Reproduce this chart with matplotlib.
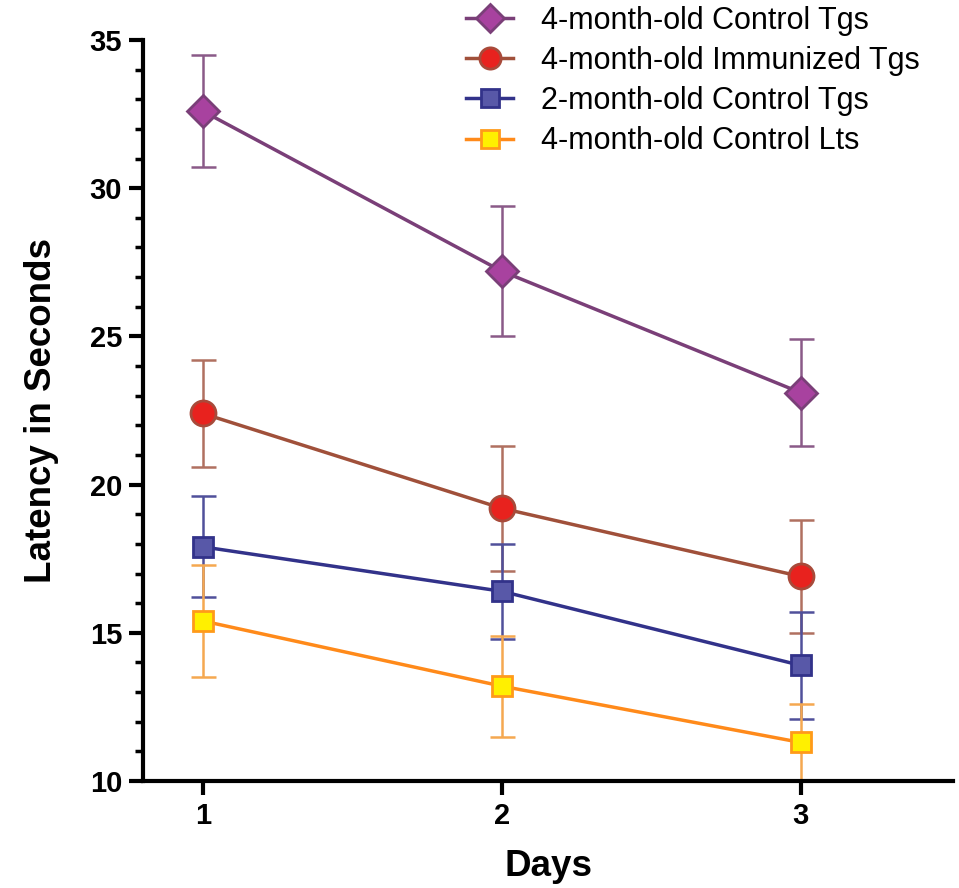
import matplotlib.pyplot as plt
from matplotlib import font_manager
from matplotlib.ticker import MultipleLocator

plt.rcParams['font.family'] = ['Liberation Sans', 'DejaVu Sans']

days = [1, 2, 3]
labels = ["4-month-old Control Tgs", "4-month-old Immunized Tgs",
          "2-month-old Control Tgs", "4-month-old Control Lts"]
ctrl_tg4 = [32.6, 27.2, 23.1]
ctrl_tg4_err = [1.9, 2.2, 1.8]
immun_tg4 = [22.4, 19.2, 16.9]
immun_tg4_err = [1.8, 2.1, 1.9]
ctrl_tg2 = [17.9, 16.4, 13.9]
ctrl_tg2_err = [1.7, 1.6, 1.8]
ctrl_lt4 = [15.4, 13.2, 11.3]
ctrl_lt4_err = [1.9, 1.7, 1.3]

series = [
    (ctrl_tg4, ctrl_tg4_err, 'D', 16.5, '#a8429f', '#7a3f78', '#7a3f78', '#8a5a88'),
    (immun_tg4, immun_tg4_err, 'o', 18, '#e8221e', '#a84a3a', '#a0503a', '#b07060'),
    (ctrl_tg2, ctrl_tg2_err, 's', 15, '#5858a8', '#32328a', '#32328a', '#50509a'),
    (ctrl_lt4, ctrl_lt4_err, 's', 15, '#fff000', '#ff9a1a', '#ff8a1a', '#f5a850'),
]

# axis titles look like a condensed bold face
try:
    font_manager.findfont(font_manager.FontProperties(family='Liberation Sans Narrow'),
                          fallback_to_default=False)
    title_font = dict(family=['Liberation Sans Narrow', 'Liberation Sans'], fontsize=32)
except ValueError:
    title_font = dict(family=['Liberation Sans', 'DejaVu Sans'], fontsize=26.5)

fig = plt.figure(figsize=(9.59, 8.88), dpi=100)
ax = fig.add_axes([0.149, 0.1205, 0.845, 0.8345])

for (vals, err, mk, ms, fc, ec, lc, errc), lab in zip(series, labels):
    ax.errorbar(days, vals, yerr=err, fmt='none', ecolor=errc, elinewidth=1.8,
                capsize=9, capthick=1.8, zorder=2)
    ax.plot(days, vals, color=lc, lw=2.5, marker=mk, ms=ms, mfc=fc, mec=ec,
            mew=2, label=lab, zorder=3)

ax.set_xlim(0.8, 3.51)
ax.set_ylim(10, 35)
ax.set_xticks(days)
ax.yaxis.set_major_locator(MultipleLocator(5))
ax.yaxis.set_minor_locator(MultipleLocator(1))
for s in ['top', 'right']:
    ax.spines[s].set_visible(False)
for s in ['left', 'bottom']:
    ax.spines[s].set_linewidth(3)
ax.tick_params(which='major', length=10, width=3, labelsize=21, pad=5)
ax.tick_params(which='minor', length=6, width=2.5)
for t in ax.get_xticklabels() + ax.get_yticklabels():
    t.set_fontweight('bold')

ax.set_xlabel('Days', fontweight='bold', labelpad=14, **title_font)
ax.set_ylabel('Latency in Seconds', fontweight='bold', labelpad=22, **title_font)

ax.legend(loc='upper left', bbox_to_anchor=(466 / 959, 1 - 6 / 888),
          bbox_transform=fig.transFigure, frameon=False, borderpad=0,
          borderaxespad=0, fontsize=22, handlelength=1.55, handletextpad=0.9,
          labelspacing=0.33, markerscale=0.85)

fig.savefig('out.png', dpi=100)
